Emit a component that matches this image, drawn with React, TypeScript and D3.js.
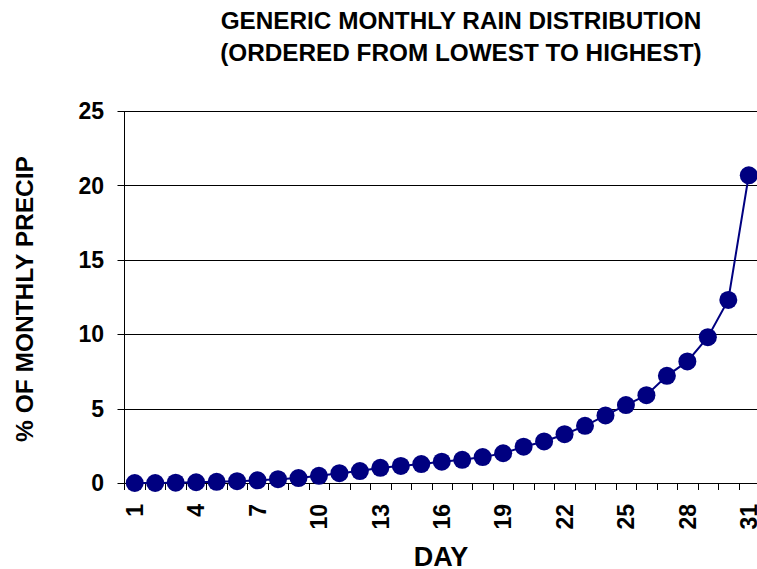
import React from "react";
import * as d3 from "d3";

const days: number[] = Array.from({ length: 31 }, (_, i) => i + 1);
const precipPct: number[] = [
  0.0, 0.0, 0.02, 0.05, 0.08, 0.12, 0.18, 0.26, 0.33, 0.48, 0.66, 0.8, 1.02,
  1.15, 1.27, 1.43, 1.56, 1.74, 2.0, 2.44, 2.79, 3.28, 3.84, 4.54, 5.24, 5.9,
  7.2, 8.17, 9.8, 12.3, 20.68,
];
const yTicks: number[] = [0, 5, 10, 15, 20, 25];
const xTickLabels: number[] = [1, 4, 7, 10, 13, 16, 19, 22, 25, 28, 31];
const titleLines: string[] = [
  "GENERIC MONTHLY RAIN DISTRIBUTION",
  "(ORDERED FROM LOWEST TO HIGHEST)",
];

const W = 757;
const H = 569;
const left = 124.5;
const right = 759;
const top = 111;
const bottom = 483;
const FONT = "'Liberation Sans', Arial, Helvetica, sans-serif";
const NAVY = "#000080";

export default function App() {
  const x = d3
    .scaleBand<number>()
    .domain(days)
    .range([left, right])
    .padding(0);
  const y = d3.scaleLinear().domain([0, 25]).range([bottom, top]);
  const cx = (d: number) => (x(d) as number) + x.bandwidth() / 2;
  const line = d3
    .line<number>()
    .x((_, i) => cx(days[i]))
    .y((v) => y(v));

  return (
    <svg
      width={W}
      height={H}
      style={{ position: "absolute", left: 0, top: 0, background: "#fff" }}
      fontFamily={FONT}
    >
      {/* title */}
      {titleLines.map((t, i) => (
        <text
          key={t}
          x={461}
          y={28.5 + i * 32}
          textAnchor="middle"
          fontWeight="bold"
          fontSize={24.3}
          fill="#000"
        >
          {t}
        </text>
      ))}

      {/* gridlines */}
      {yTicks.map((t) => (
        <line
          key={"g" + t}
          x1={left - 7}
          x2={right}
          y1={Math.round(y(t)) + 0.5}
          y2={Math.round(y(t)) + 0.5}
          stroke="#000"
          strokeWidth={1}
        />
      ))}

      {/* y axis line */}
      <line x1={left} x2={left} y1={top} y2={bottom + 7} stroke="#000" strokeWidth={1} />

      {/* y tick labels */}
      {yTicks.map((t) => (
        <text
          key={"yl" + t}
          x={104}
          y={y(t)}
          dy="0.36em"
          textAnchor="end"
          fontWeight="bold"
          fontSize={23}
          fill="#000"
        >
          {t}
        </text>
      ))}

      {/* x ticks at band boundaries */}
      {days.map((d) => (
        <line
          key={"xt" + d}
          x1={Math.round((x(d) as number) + x.bandwidth()) + 0.5}
          x2={Math.round((x(d) as number) + x.bandwidth()) + 0.5}
          y1={bottom}
          y2={bottom + 7}
          stroke="#000"
          strokeWidth={1}
        />
      ))}

      {/* x tick labels */}
      {xTickLabels.map((d) => (
        <text
          key={"xl" + d}
          transform={`translate(${cx(d)},${504}) rotate(-90)`}
          dy="0.36em"
          textAnchor="end"
          fontWeight="bold"
          fontSize={23}
          fill="#000"
        >
          {d}
        </text>
      ))}

      {/* axis titles */}
      <text
        transform={`translate(${24},${299}) rotate(-90)`}
        dy="0.36em"
        textAnchor="middle"
        fontWeight="bold"
        fontSize={24.5}
        fill="#000"
      >
        % OF MONTHLY PRECIP
      </text>
      <text
        x={441}
        y={566}
        textAnchor="middle"
        fontWeight="bold"
        fontSize={27}
        fill="#000"
      >
        DAY
      </text>

      {/* series */}
      <path d={line(precipPct) || ""} fill="none" stroke={NAVY} strokeWidth={2} />
      {precipPct.map((v, i) => (
        <circle key={"c" + i} cx={cx(days[i])} cy={y(v)} r={9} fill={NAVY} />
      ))}
    </svg>
  );
}
